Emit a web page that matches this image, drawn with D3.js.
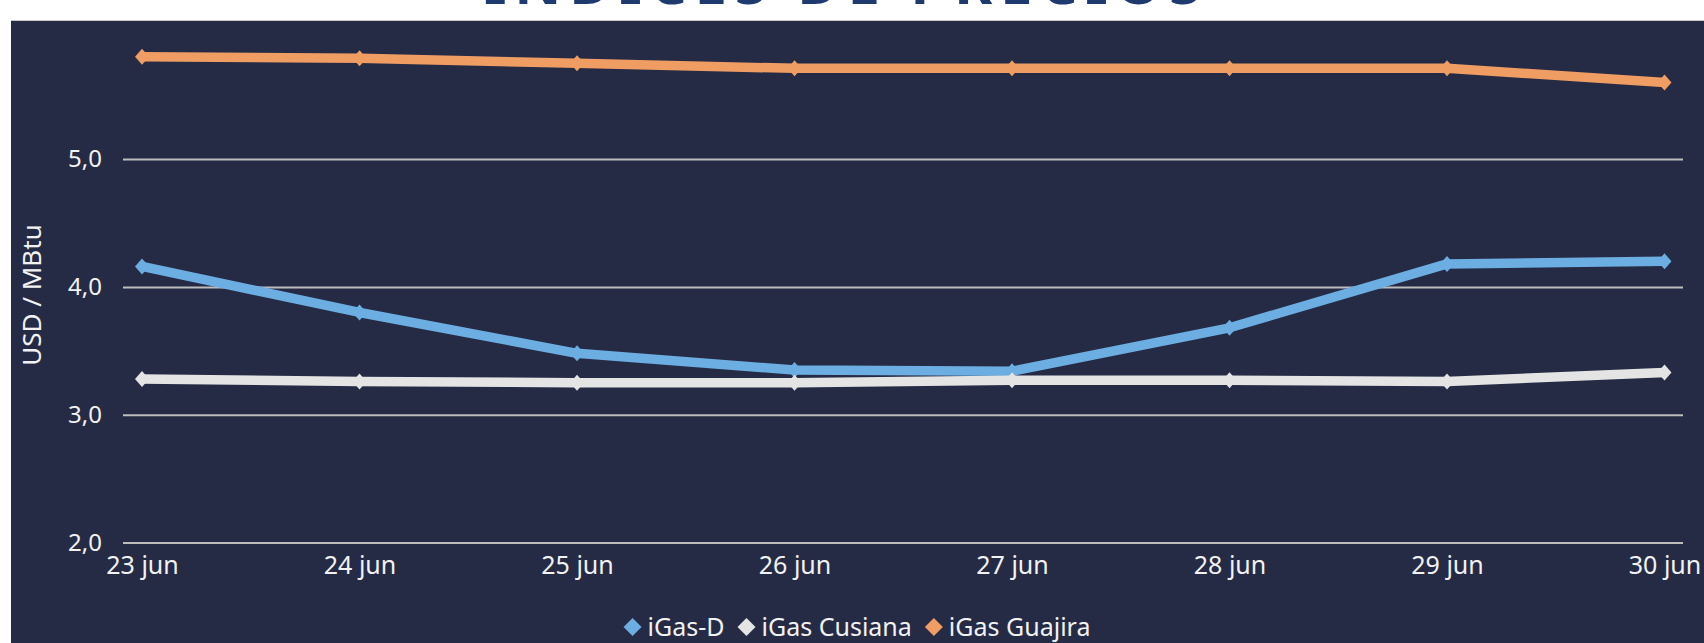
<!DOCTYPE html>
<html>
<head>
<meta charset="utf-8">
<script src="https://cdn.jsdelivr.net/npm/d3@7"></script>
<style>
  html, body { margin: 0; padding: 0; background: #fff; }
  svg { display: block; font-family: "Noto Sans", "Open Sans", sans-serif; }
</style>
</head>
<body>
<script>
// daily price indices, USD / MBtu
var days = ['23 jun', '24 jun', '25 jun', '26 jun', '27 jun', '28 jun', '29 jun', '30 jun'];
var igasD =       [4.16, 3.80, 3.48, 3.35, 3.34, 3.68, 4.18, 4.20];
var igasCusiana = [3.28, 3.26, 3.25, 3.25, 3.27, 3.27, 3.26, 3.33];
var igasGuajira = [5.80, 5.79, 5.75, 5.71, 5.71, 5.71, 5.71, 5.60];
var seriesNames = ['iGas-D', 'iGas Cusiana', 'iGas Guajira'];
var yTicks = [2, 3, 4, 5];

(function () {
  'use strict';

  var W = 1704, H = 643;
  var BG = '#252b45', TEXT = '#f2f2f2', GRID = '#bdbdbd';
  var colors = ['#6cade2', '#e4e4e4', '#f09d63'];
  var values = [igasD, igasCusiana, igasGuajira];

  var svg = d3.select('body').append('svg')
      .attr('width', W)
      .attr('height', H);

  // title, mostly cut off above the picture
  svg.append('text')
      .attr('x', 484)
      .attr('y', 4)
      .attr('textLength', 717)
      .attr('lengthAdjust', 'spacing')
      .style('font-size', '58px')
      .style('font-weight', 'bold')
      .style('fill', '#1f3a6e')
      .text('INDICES DE PRECIOS');

  svg.append('rect')
      .attr('x', 11)
      .attr('y', 20)
      .attr('width', W - 11)
      .attr('height', H - 20)
      .style('fill', BG);
  svg.append('line')
      .attr('x1', 11).attr('x2', W)
      .attr('y1', 20.5).attr('y2', 20.5)
      .style('stroke', '#c8c8c8')
      .style('stroke-width', 1);

  var plotLeft = 123, plotRight = 1683;

  var x = d3.scalePoint()
      .domain(days)
      .range([142, 1664.5]);

  var y = d3.scaleLinear()
      .domain([2, 6])
      .range([542.5, 31.3]);

  var fmt = function (d) { return d3.format('.1f')(d).replace('.', ','); };

  var yAxis = svg.append('g')
      .attr('transform', 'translate(' + plotLeft + ',0)')
      .call(d3.axisLeft(y)
        .tickValues(yTicks)
        .tickFormat(fmt)
        .tickSizeInner(-(plotRight - plotLeft))
        .tickSizeOuter(0)
        .tickPadding(21));
  yAxis.select('.domain').remove();
  yAxis.selectAll('.tick line')
      .style('stroke', GRID)
      .style('stroke-width', 2);
  yAxis.selectAll('.tick text')
      .style('fill', TEXT)
      .style('font-size', '24px')
      .style('font-family', '"Noto Sans", sans-serif');

  var xAxis = svg.append('g')
      .attr('transform', 'translate(0,' + y(2) + ')')
      .call(d3.axisBottom(x)
        .tickSize(0)
        .tickPadding(14));
  xAxis.select('.domain').remove();
  xAxis.selectAll('.tick text')
      .style('fill', TEXT)
      .style('font-size', '25px')
      .style('font-family', '"Noto Sans", sans-serif');

  svg.append('text')
      .attr('transform', 'translate(41,295) rotate(-90)')
      .attr('text-anchor', 'middle')
      .style('fill', TEXT)
      .style('font-size', '26px')
      .text('USD / MBtu');

  var line = d3.line()
      .x(function (d, i) { return x(days[i]); })
      .y(function (d) { return y(d); });

  var diamond = 'M0,-8L7,0L0,8L-7,0Z';

  values.forEach(function (vals, s) {
    var g = svg.append('g');
    g.append('path')
        .datum(vals)
        .attr('d', line)
        .style('fill', 'none')
        .style('stroke', colors[s])
        .style('stroke-width', 9.5)
        .style('stroke-linejoin', 'round');
    g.selectAll('path.marker')
        .data(vals)
        .enter().append('path')
        .attr('class', 'marker')
        .attr('d', diamond)
        .attr('transform', function (d, i) {
          return 'translate(' + x(days[i]) + ',' + y(d) + ')';
        })
        .style('fill', colors[s]);
  });

  // legend, centred in the panel
  var legend = svg.append('g');
  var cursor = 0;
  seriesNames.forEach(function (name, s) {
    var item = legend.append('g').attr('transform', 'translate(' + cursor + ',0)');
    item.append('path')
        .attr('d', 'M0,-9L9,0L0,9L-9,0Z')
        .style('fill', colors[s]);
    var t = item.append('text')
        .attr('x', 15)
        .attr('dy', '0.35em')
        .style('fill', TEXT)
        .style('font-size', '25px')
        .text(name);
    cursor += 15 + t.node().getComputedTextLength() + 22;
  });
  var legendWidth = cursor - 22 + 9;
  legend.attr('transform', 'translate(' + (857 - legendWidth / 2 + 9) + ',627)');
})();
</script>
</body>
</html>
